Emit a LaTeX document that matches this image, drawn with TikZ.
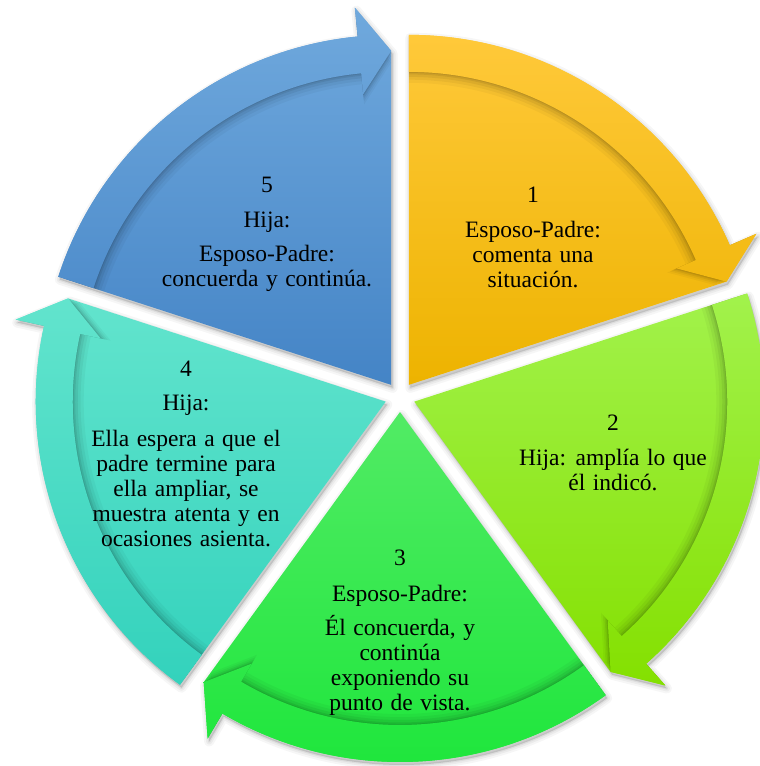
\documentclass[tikz,border=0pt]{standalone}
\usepackage{fontspec}
\setmainfont{Liberation Serif}
\definecolor{yelT}{HTML}{FFC93A}
\definecolor{yelB}{HTML}{EDB300}
\definecolor{limT}{HTML}{A2F24C}
\definecolor{limB}{HTML}{84E000}
\definecolor{grnT}{HTML}{52EB65}
\definecolor{grnB}{HTML}{1CE63A}
\definecolor{tealT}{HTML}{62E4CD}
\definecolor{tealB}{HTML}{33D2BC}
\definecolor{bluT}{HTML}{70A9DD}
\definecolor{bluB}{HTML}{4484C6}
\newcommand\SliceSetup[1]{%
  \pgfmathsetmacro\ax{400+15*cos(#1)}%
  \pgfmathsetmacro\ay{369+15*sin(#1)}%
  \pgfmathsetmacro\sA{#1+36}%
  \pgfmathsetmacro\eA{#1-36}%
  \pgfmathsetmacro\bA{#1-30.5}%
}
\def\combpath{(0,0) -- (\sA:350pt) arc[start angle=\sA, end angle=\bA, radius=350pt] -- (\bA:379pt) -- (\eA:334pt) -- cycle}
\def\bandpath{(\sA:350pt) arc[start angle=\sA, end angle=\bA, radius=350pt] -- (\bA:379pt) -- (\eA:334pt) -- (\bA:292pt) -- (\bA:313pt) arc[start angle=\bA, end angle=\sA, radius=313pt] -- cycle}
\newcommand\SliceShadow[1]{%
  \SliceSetup{#1}%
  \begin{scope}[shift={(\ax,\ay)}, shift={(1.5,-3)}]
    \foreach \w/\o in {10/0.035,6/0.045,2.5/0.06}{%
      \path[fill=black, fill opacity=\o, draw=black, draw opacity=\o, line width=\w pt, line join=round] \combpath;}
  \end{scope}%
}
\newcommand\SliceFill[3]{%
  \SliceSetup{#1}%
  \begin{scope}[shift={(\ax,\ay)}]
    \shade[top color=#2, bottom color=#3] \combpath;
    \begin{scope}
      \clip \combpath;
      \foreach \f/\o in {0.965/0.035,0.975/0.045,0.984/0.06,0.992/0.07,0.997/0.08}{%
        \fill[black, fill opacity=\o, scale=\f] \bandpath;}
    \end{scope}
    \begin{scope}
      \clip \bandpath;
      \shade[top color=#2, bottom color=#3] \combpath;
    \end{scope}
  \end{scope}%
}
\newcommand\widespaces{\spaceskip=0.32em plus 0.1em minus 0.05em\relax}
\begin{document}
\begin{tikzpicture}[x=1pt,y=1pt,
  txt/.style={anchor=base, inner sep=0pt, font=\fontsize{23.5}{25}\selectfont, execute at begin node=\widespaces}]
\useasboundingbox (0,0) rectangle (760,766);
% shadows
\SliceShadow{54}
\SliceShadow{-18}
\SliceShadow{-90}
\SliceShadow{198}
\SliceShadow{126}
% slices
\SliceFill{54}{yelT}{yelB}
\SliceFill{-18}{limT}{limB}
\SliceFill{-90}{grnT}{grnB}
\SliceFill{198}{tealT}{tealB}
\SliceFill{126}{bluT}{bluB}
% texts slice 1
\node[txt] (a0) at (533,563) {1};
\node[txt] (a1) at (533,528) {Esposo-Padre:};
\node[txt] (a2) at (533,503) {comenta una};
\node[txt] (a3) at (533,478) {situación.};
% slice 2
\node[txt] (b0) at (613,335) {2};
\node[txt] (b1) at (613,300) {Hija: amplía lo que};
\node[txt] (b2) at (613,275) {él indicó.};
% slice 3
\node[txt] (c0) at (400,200) {3};
\node[txt] (c1) at (400,164) {Esposo-Padre:};
\node[txt] (c2) at (400,130) {Él concuerda, y};
\node[txt] (c3) at (400,105) {continúa};
\node[txt] (c4) at (400,80) {exponiendo su};
\node[txt] (c5) at (400,55) {punto de vista.};
% slice 4
\node[txt] (d0) at (186,389) {4};
\node[txt] (d1) at (186,355) {Hija:};
\node[txt] (d2) at (186,319) {Ella espera a que el};
\node[txt] (d3) at (186,294) {padre termine para};
\node[txt] (d4) at (186,269) {ella ampliar, se};
\node[txt] (d5) at (186,244) {muestra atenta y en};
\node[txt] (d6) at (186,219) {ocasiones asienta.};
% slice 5
\node[txt] (e0) at (267,573) {5};
\node[txt] (e1) at (267,538) {Hija:};
\node[txt] (e2) at (267,504) {Esposo-Padre:};
\node[txt] (e3) at (267,479) {concuerda y continúa.};
\end{tikzpicture}
\end{document}
